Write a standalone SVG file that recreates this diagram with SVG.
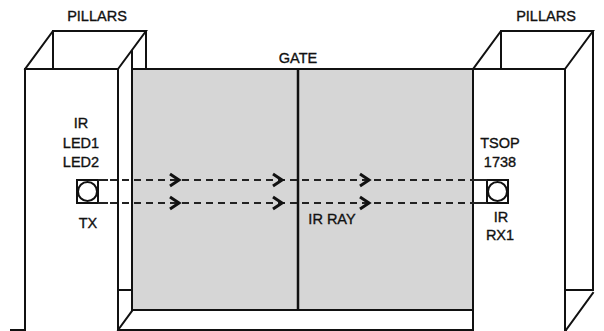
<svg xmlns="http://www.w3.org/2000/svg" width="604" height="331" viewBox="0 0 604 331">
  <style>
    .edge { fill: none; stroke: #111; stroke-width: 2; stroke-linecap: square; }
    .ray { fill: none; stroke: #222; stroke-width: 2; stroke-dasharray: 7 5; }
    .lead { fill: none; stroke: #222; stroke-width: 2; }
    .chev { fill: none; stroke: #111; stroke-width: 3; stroke-linejoin: miter; }
    .lbl { font-family: "Liberation Sans", Arial, Helvetica, sans-serif; font-size: 14.5px; fill: #111; stroke: #111; stroke-width: 0.35; text-anchor: middle; }
  </style>

  <!-- sliding gate between the pillars -->
  <g id="gate">
    <rect x="132" y="69" width="341" height="241" fill="#d6d6d6"/>
    <path class="edge" d="M132 51 V310 H473 M132 69 H473"/>
    <line x1="298" y1="69" x2="298" y2="310" stroke="#111" stroke-width="2.5"/>
    <text class="lbl" x="298" y="63">GATE</text>
  </g>

  <!-- ground line -->
  <g id="ground">
    <line class="edge" x1="11" y1="330" x2="566" y2="330"/>
  </g>

  <!-- left pillar (transmitter side) -->
  <g id="pillar-left">
    <rect x="25" y="69" width="93" height="262" fill="#fff"/>
    <path class="edge" d="M25 331 V69 H118 V331 M25 69 L53 31 H146 L118 69 M53 31 V69 M146 31 V69 M118 290 H132 M118 330 L132 311"/>
    <text class="lbl" x="97" y="21">PILLARS</text>
  </g>

  <!-- right pillar (receiver side) -->
  <g id="pillar-right">
    <rect x="473" y="69" width="92" height="262" fill="#fff"/>
    <path class="edge" d="M473 331 V69 H565 V331 M473 69 L501 31 H593 L565 69 M501 31 V69 M593 31 V290 H565 M593 293 L566 330"/>
    <text class="lbl" x="546" y="21">PILLARS</text>
  </g>

  <!-- IR transmitter -->
  <g id="tx">
    <rect x="77" y="180" width="21" height="23" fill="#fff" stroke="#111" stroke-width="2"/>
    <circle cx="87.5" cy="191.5" r="9.5" fill="#fff" stroke="#111" stroke-width="2"/>
    <text class="lbl" x="81" y="128">IR</text>
    <text class="lbl" x="81" y="148">LED1</text>
    <text class="lbl" x="81" y="167">LED2</text>
    <text class="lbl" x="88" y="228">TX</text>
  </g>

  <!-- IR receiver -->
  <g id="rx">
    <rect x="487" y="180" width="21" height="23" fill="#fff" stroke="#111" stroke-width="2"/>
    <circle cx="497.5" cy="191.5" r="9.5" fill="#fff" stroke="#111" stroke-width="2"/>
    <text class="lbl" x="500" y="148">TSOP</text>
    <text class="lbl" x="500" y="167">1738</text>
    <text class="lbl" x="501" y="222">IR</text>
    <text class="lbl" x="500" y="240">RX1</text>
  </g>

  <!-- IR beams -->
  <g id="connectors">
    <path class="lead" d="M98 180 H108 M98 203 H108 M476 180 H487 M476 203 H487"/>
    <path class="ray" d="M110 180 H476 M110 203 H476"/>
    <path class="chev" d="M170 174 L179 180 L170 186 M170 197 L179 203 L170 209"/>
    <path class="chev" d="M273 174 L282 180 L273 186 M273 197 L282 203 L273 209"/>
    <path class="chev" d="M360 174 L369 180 L360 186 M360 197 L369 203 L360 209"/>
    <text class="lbl" x="332" y="224">IR RAY</text>
  </g>
</svg>
